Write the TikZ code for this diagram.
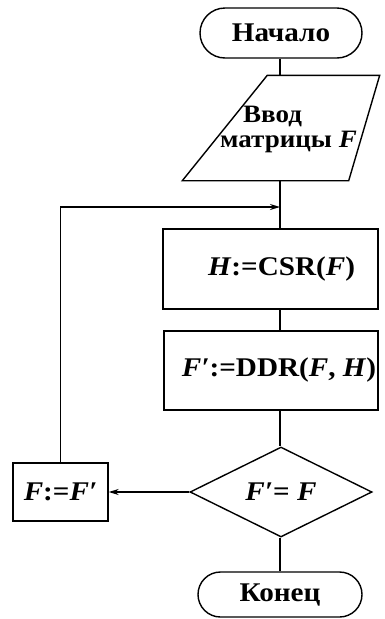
\documentclass[tikz,border=0pt]{standalone}
\usepackage{fontspec}
\setmainfont{Liberation Serif}[FakeStretch=1.08]
\usetikzlibrary{shapes.geometric,shapes.misc,arrows.meta,calc}
\tikzset{
  base/.style={draw=black, line width=1.4pt, inner sep=0pt, font=\fontsize{27}{25}\selectfont\bfseries},
  term/.style={base, rounded rectangle, rounded rectangle arc length=180},
  iobox/.style={base, draw=none, rectangle},
  iotext/.style={inner sep=0pt, font=\fontsize{25}{25}\selectfont\bfseries},
  outline/.style={line width=1.4pt, line join=miter},
  proc/.style={base, rectangle},
  dec/.style={base, diamond},
  conn/.style={line width=1.4pt},
  arr/.style={conn, -{Stealth[length=10pt,width=6pt]}}
}
\begin{document}
\begin{tikzpicture}[x=1pt,y=-1pt]
\useasboundingbox (0,0) rectangle (385,619);
\node[term, minimum width=162pt, minimum height=50pt] (start) at (281,33) {Начало};
\node[iobox, minimum width=196pt, minimum height=104pt] (para) at (281,128) {};
\draw[outline] ($(para.north west)+(85,0)$) -- (para.north east) -- ($(para.south east)-(31,0)$) -- (para.south west) -- cycle;
\node[iotext, anchor=base west] (in1) at (243,122) {Ввод};
\node[iotext, anchor=base west] (in2) at (220,147) {матрицы \textit{F}};
\node[proc, minimum width=215pt, minimum height=80pt] (csr) at (270.5,269) {\hspace*{22pt}\textit{H}:=CSR(\textit{F})};
\node[proc, minimum width=214pt, minimum height=79pt] (ddr) at (271,370.5) {\hspace*{16pt}\textit{F′}:=DDR(\textit{F}, \textit{H})};
\node[dec, minimum width=182pt, minimum height=90pt] (dia) at (281,492) {\textit{F′}= \textit{F}};
\node[proc, minimum width=95pt, minimum height=58pt] (fb) at (60.5,492) {\textit{F}:=\textit{F′}};
\node[term, minimum width=164pt, minimum height=45pt] (end) at (280,594.5) {Конец};
\coordinate (ax) at (280,207);
\draw[conn] (start.south -| ax) -- (para.north -| ax);
\draw[conn] (para.south -| ax) -- (csr.north -| ax);
\draw[conn] (csr.south -| ax) -- (ddr.north -| ax);
\draw[conn] (ddr.south -| ax) -- (dia.north -| ax);
\draw[conn] (dia.south -| ax) -- (end.north -| ax);
\draw[arr] (dia.west) -- (fb.east);
\draw[arr] (fb.north) |- (ax);
\end{tikzpicture}
\end{document}
